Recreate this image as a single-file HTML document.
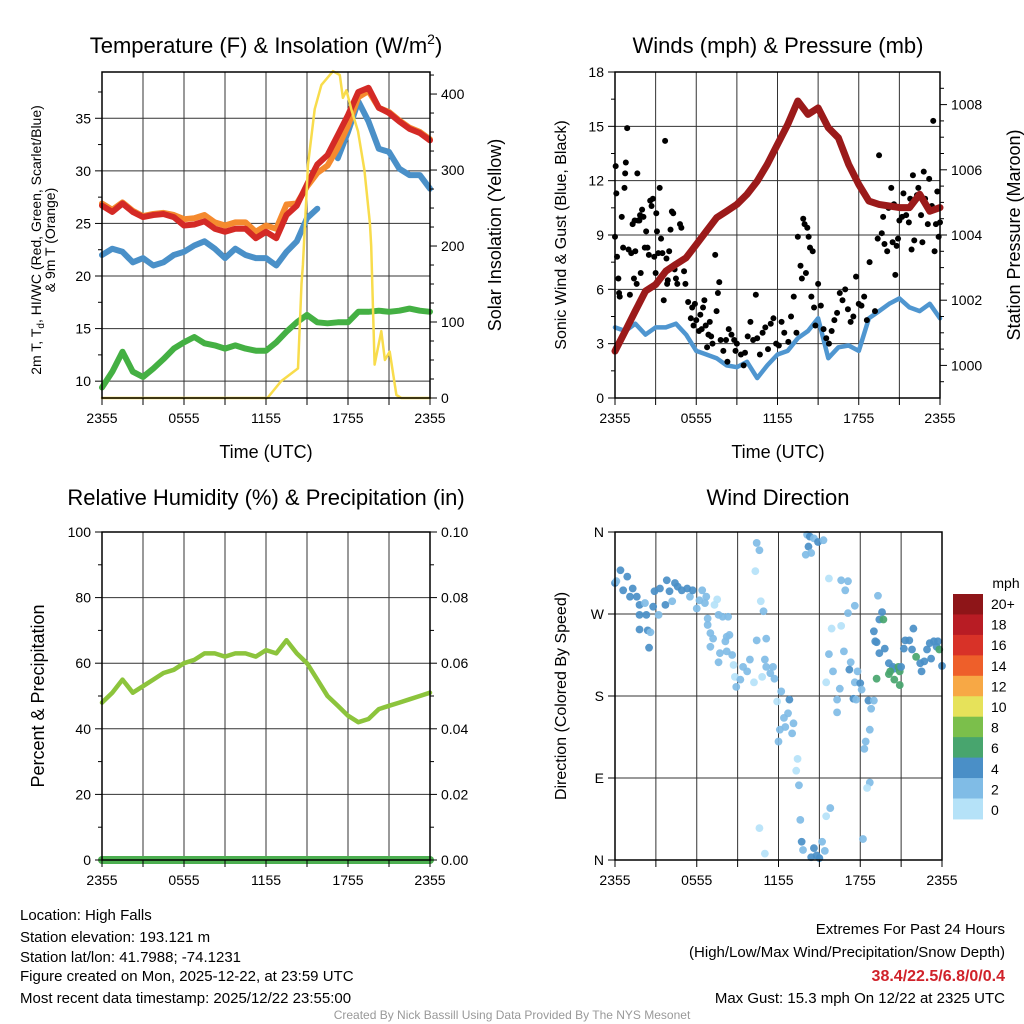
<!DOCTYPE html>
<html><head><meta charset="utf-8"><style>
html,body{margin:0;padding:0;background:#fff;}
svg{display:block;font-family:"Liberation Sans",Arial,sans-serif;}
</style></head><body>
<svg id="c" width="1024" height="1024" viewBox="0 0 1024 1024" xmlns="http://www.w3.org/2000/svg">
<rect width="1024" height="1024" fill="#fff"/>
<g id="grids"></g>
<g id="marks"></g>
<g id="frames"></g>
<g id="texts" fill="#000">
<text x="266" y="53" font-size="22" text-anchor="middle">Temperature (F) &amp; Insolation (W/m<tspan font-size="14" dy="-9">2</tspan><tspan dy="9">)</tspan></text>
<text x="778" y="53" font-size="22" text-anchor="middle">Winds (mph) &amp; Pressure (mb)</text>
<text x="266" y="505" font-size="22" text-anchor="middle">Relative Humidity (%) &amp; Precipitation (in)</text>
<text x="778" y="505" font-size="22" text-anchor="middle">Wind Direction</text>
<text x="266" y="458" font-size="18" text-anchor="middle">Time (UTC)</text>
<text x="778" y="458" font-size="18" text-anchor="middle">Time (UTC)</text>
<text font-size="14" text-anchor="middle" transform="translate(41,240) rotate(-90)">2m T, T<tspan font-size="10" dy="3">d</tspan><tspan dy="-3">, HI/WC (Red, Green, Scarlet/Blue)</tspan></text>
<text font-size="14" text-anchor="middle" transform="translate(55,240) rotate(-90)">&amp; 9m T (Orange)</text>
<text font-size="18" text-anchor="middle" transform="translate(501,235) rotate(-90)">Solar Insolation (Yellow)</text>
<text font-size="16" text-anchor="middle" transform="translate(566,235) rotate(-90)">Sonic Wind &amp; Gust (Blue, Black)</text>
<text font-size="18" text-anchor="middle" transform="translate(1020,235) rotate(-90)">Station Pressure (Maroon)</text>
<text font-size="18" text-anchor="middle" transform="translate(44,696) rotate(-90)">Percent &amp; Precipitation</text>
<text font-size="16" text-anchor="middle" transform="translate(566,696) rotate(-90)">Direction (Colored By Speed)</text>
<text x="1006" y="588" font-size="14" text-anchor="middle">mph</text>
<g font-size="15">
<text x="20" y="920">Location: High Falls</text>
<text x="20" y="942">Station elevation: 193.121 m</text>
<text x="20" y="962">Station lat/lon: 41.7988; -74.1231</text>
<text x="20" y="981">Figure created on Mon, 2025-12-22, at 23:59 UTC</text>
<text x="20" y="1003">Most recent data timestamp: 2025/12/22 23:55:00</text>
</g>
<g font-size="15" text-anchor="end">
<text x="1005" y="934">Extremes For Past 24 Hours</text>
<text x="1005" y="957">(High/Low/Max Wind/Precipitation/Snow Depth)</text>
<text x="1005" y="981" fill="#d0222a" font-weight="bold" font-size="16">38.4/22.5/6.8/0/0.4</text>
<text x="1005" y="1003">Max Gust: 15.3 mph On 12/22 at 2325 UTC</text>
</g>
<text x="512" y="1019" font-size="12" fill="#999" text-anchor="middle">Created By Nick Bassill Using Data Provided By The NYS Mesonet</text>
</g>
</svg>
<script>
// ---- data ----
const hourTicks=[0,6,12,18,24];
const hourTickLabels=["2355","0555","1155","1755","2355"];
const tempT=[0,0.75,1.5,2.25,3,3.75,4.5,5.25,6,6.75,7.5,8.25,9,9.75,10.5,11.25,12,12.75,13.5,14.25,15,15.75,16.5,17.25,18,18.75,19.5,20.25,21,21.75,22.5,23.25,24];
const tempRed=[26.7,26.1,26.9,26.1,25.6,25.8,25.9,25.6,24.8,24.9,25.2,24.5,24.2,24.5,24.5,23.6,24.2,23.6,25.8,26.7,28.7,30.6,31.5,33.4,35.3,37.5,37.9,36.0,35.5,34.7,34.0,33.6,32.9];
const tempOrange=[26.9,26.3,27.0,26.2,25.7,25.9,26.0,25.8,25.4,25.5,25.8,25.1,24.8,25.1,25.1,24.2,24.8,24.5,26.8,26.9,28.5,29.8,30.5,32.2,34.3,37.0,37.6,36.0,35.6,34.8,34.1,33.7,33.0];
const tempBlue=[22.0,22.6,22.3,21.3,21.7,21.0,21.3,22.0,22.3,22.9,23.3,22.6,21.7,22.6,22.0,21.7,21.7,21.0,22.3,23.3,25.5,26.4,null,31.2,33.7,36.6,34.7,32.1,31.8,30.2,29.6,29.6,28.3];
const tempGreen=[9.4,10.9,12.8,10.9,10.4,11.2,12.1,13.1,13.7,14.2,13.6,13.4,13.1,13.4,13.1,12.9,12.9,13.7,14.7,15.6,16.3,15.6,15.5,15.6,15.6,16.6,16.6,16.7,16.6,16.7,16.9,16.7,16.6];
const solarT=[0,12.1,13.1,14.34,14.6,14.7,15.07,15.56,16.05,16.9,17.4,17.63,17.88,18.24,18.73,19.2,19.6,19.7,19.95,20.44,20.7,21.05,21.54,21.9,24];
const solarV=[0,0,22,39,150,175,307,380,412,430,425,395,405,380,351,300,230,200,44,88,50,61,4,0,0];
const pressT=tempT;
const pressV=[1000.44,1001.05,1001.67,1002.28,1002.48,1002.89,1003.10,1003.30,1003.71,1004.12,1004.53,1004.73,1004.94,1005.25,1005.65,1006.17,1006.78,1007.39,1008.11,1007.70,1007.90,1007.29,1006.98,1006.17,1005.55,1005.04,1004.94,1004.89,1004.84,1004.84,1005.25,1004.73,1004.84];
const windV=[3.9,3.7,4.1,3.5,3.9,3.9,4.1,3.5,2.6,2.4,2.2,1.8,1.7,2.0,1.1,1.8,2.4,2.6,3.3,3.7,4.4,2.2,2.8,2.9,2.6,4.4,4.8,5.2,5.5,5.0,4.8,5.2,4.4];
const gustT=[0,0.05,0.1,0.15,0.25,0.3,0.35,0.5,0.6,0.7,0.8,0.75,0.9,1.0,1.1,1.2,1.3,1.4,1.45,1.5,1.6,1.65,1.7,1.8,1.85,1.9,2.0,2.1,2.2,2.3,2.4,2.5,2.6,2.7,2.8,2.9,3.0,3.05,3.1,3.2,3.3,3.4,3.5,3.6,3.7,3.8,3.85,3.9,4.0,4.1,4.2,4.3,4.4,4.5,4.6,4.8,4.9,5.1,5.2,5.4,5.6,5.7,5.8,5.9,6.0,6.2,6.3,6.4,6.5,6.6,6.7,6.8,6.9,7.0,7.1,7.2,7.4,7.5,7.6,7.7,7.8,8.0,8.2,8.3,8.4,8.6,8.8,8.9,9.0,9.3,9.5,9.6,9.8,10.0,10.2,10.4,10.5,10.7,10.9,11.1,11.3,11.5,11.7,11.9,12.1,12.3,12.5,12.8,13.0,13.2,13.4,13.5,13.7,13.8,13.9,14.0,14.1,14.2,14.3,14.4,14.5,14.6,14.7,14.8,15.0,15.2,15.4,15.6,15.8,16.0,16.2,16.4,16.6,16.8,17.0,17.2,17.4,17.6,17.8,18.0,18.2,18.4,18.6,18.8,19.2,19.4,19.5,19.7,19.8,19.9,20.1,20.2,20.4,20.5,20.6,20.7,20.8,20.9,21.0,21.2,21.3,21.5,21.7,21.8,21.9,22.0,22.1,22.3,22.4,22.6,22.7,22.8,22.9,23.1,23.2,23.4,23.5,23.6,23.7,23.8,23.9,24.0];
const gustV=[8.9,12.8,11.3,7.8,6.6,5.8,5.6,10.0,8.3,11.6,13.0,12.4,14.9,8.2,5.7,8.0,9.6,6.6,9.8,8.1,6.3,12.4,9.8,9.8,10.1,6.9,10.4,10.0,8.3,9.2,8.3,7.9,10.9,10.6,11.0,7.8,6.9,10.2,9.2,8.0,11.6,8.8,8.0,5.4,14.2,7.7,6.3,6.5,8.1,9.3,10.3,10.2,7.1,6.6,6.3,9.6,9.4,7.0,6.3,5.3,4.4,5.0,4.0,5.2,4.3,3.7,4.6,3.8,5.0,5.4,4.0,2.8,3.5,4.2,3.4,3.0,7.9,4.8,5.8,6.4,3.2,2.6,3.2,2.0,3.8,3.5,3.2,2.6,3.0,2.4,1.8,2.5,3.4,4.2,3.2,5.7,3.3,2.4,3.6,3.9,2.7,4.1,4.4,3.0,2.9,4.2,3.6,3.1,4.5,5.6,3.6,8.9,7.3,6.6,9.9,9.6,6.9,9.4,8.9,8.3,5.6,8.1,5.0,4.0,6.3,5.1,3.8,3.3,3.0,3.7,4.3,4.7,5.8,5.4,6.0,4.9,4.2,4.5,6.7,5.2,5.1,5.6,4.3,7.5,4.8,8.8,13.4,9.1,10.0,8.5,8.1,10.5,11.6,8.6,10.7,6.8,8.4,8.8,9.8,10.0,11.3,10.1,9.7,11.0,8.2,12.3,8.7,11.2,11.6,10.1,8.6,12.5,11.0,9.6,12.1,10.6,15.3,8.1,9.6,11.4,8.9,9.7];
const rhT=tempT;
const rhV=[48,51,55,51,53,55,57,58,60,61,63,63,62,63,63,62,64,63,67,63,60,55,50,47,44,42,43,46,47,48,49,50,51];
const precipT=[0,24];
const precipV=[0,0];
const dirT=[0.0,0.4,0.1,0.6,0.9,1.1,1.3,1.6,1.8,2.2,1.8,2.3,1.8,2.4,2.6,2.5,2.8,2.9,3.2,3.3,3.7,3.8,4.0,4.2,4.4,4.6,4.9,5.3,5.5,5.7,6.0,6.2,6.4,6.6,6.7,7.5,7.3,6.8,6.8,7.0,7.2,7.0,7.6,7.9,8.3,8.2,8.4,8.1,7.7,7.6,8.2,8.6,8.7,8.8,8.9,9.2,9.4,9.7,9.9,10.2,10.4,10.8,11.0,11.1,11.4,11.6,11.7,11.9,12.2,12.4,12.1,12.0,12.5,12.7,12.8,13.1,13.0,13.4,13.3,13.5,13.6,13.7,13.8,14.4,14.6,14.8,15.0,15.2,15.4,10.3,10.4,10.6,10.7,10.9,11.1,10.6,11.0,14.1,14.3,14.6,14.2,14.0,14.4,14.9,15.3,15.7,15.9,16.6,16.6,17.1,16.9,17.6,17.1,15.7,16.8,16.0,15.5,16.5,16.3,16.3,17.3,17.8,17.2,17.6,18.0,17.5,17.7,18.1,18.6,18.8,19.0,18.7,18.4,18.3,18.7,18.5,15.8,15.5,18.2,19.3,19.6,19.4,19.7,19.0,19.1,19.2,19.4,19.8,20.1,20.4,20.5,20.2,20.1,20.8,20.9,20.5,20.9,21.0,21.2,21.3,21.6,21.9,21.8,22.1,22.4,22.5,22.7,22.9,23.1,23.4,23.6,23.7,23.2,23.8,24.0,19.2];
const dirV=[304,318,306,296,311,289,298,289,280,282,269,269,253,252,250,233,278,295,269,298,280,307,295,284,304,300,296,298,289,296,276,285,296,282,289,286,280,265,258,249,243,234,269,267,267,245,247,240,227,217,229,225,214,201,190,198,212,207,220,195,241,201,220,212,205,212,199,174,185,156,143,130,146,161,176,150,139,111,98,82,44,20,11,3,13,5,2,20,10,317,348,340,284,273,243,35,7,357,355,353,344,335,337,349,351,309,254,257,307,306,296,279,271,226,229,207,195,188,176,162,217,207,209,195,194,177,176,187,175,166,175,143,130,122,85,79,57,48,23,290,272,264,264,251,240,239,227,232,216,212,210,207,204,212,207,198,192,212,232,241,241,254,231,223,216,207,218,231,238,240,234,240,221,231,213,199];
const dirSpeed=[3,3,1.5,3,3,3,3,3,3,1.5,3,3,3,3,1.5,3,3,3,1.5,3,3,3,3,1.5,3,3,3,3,1.5,3,1.5,1.5,1.5,1.5,1.5,0.5,0.5,1.5,1.5,1.5,1.5,1.5,1.5,1.5,1.5,1.5,1.5,1.5,1.5,1.5,1.5,1.5,0.5,0.5,1.5,1.5,1.5,1.5,1.5,0.5,1.5,0.5,1.5,1.5,1.5,1.5,1.5,0.5,1.5,1.5,1.5,1.5,1.5,1.5,3,1.5,1.5,0.5,0.5,1.5,1.5,3,1.5,3,3,3,3,1.5,1.5,0.5,1.5,1.5,0.5,1.5,1.5,0.5,0.5,1.5,3,1.5,3,1.5,1.5,3,1.5,0.5,0.5,0.5,1.5,1.5,1.5,1.5,1.5,1.5,1.5,1.5,0.5,1.5,1.5,1.5,1.5,1.5,3,1.5,3,3,1.5,1.5,3,1.5,1.5,1.5,1.5,1.5,1.5,0.5,1.5,0.5,1.5,1.5,3,3,5,3,3,3,3,3,3,3,3,5,5,5,5,5,5,3,3,3,3,3,3,5,3,3,3,3,3,3,3,3,3,5,3,5,3];
const colorbarLabels=["20+","18","16","14","12","10","8","6","4","2","0"];
const speedBreaks=[1,2,4,6,8,10,12,14,16,18];
const speedColors=["#b5e2f8","#80bce6","#4a8fc7","#48a56e","#7bbf4b","#e6e25a","#f7a845","#ee5f2a","#d83228","#b81c24","#8e1518"];

// ---- helpers ----
const NS="http://www.w3.org/2000/svg";
function mk(parent,tag,attrs){const e=document.createElementNS(NS,tag);for(const k in attrs)e.setAttribute(k,attrs[k]);document.getElementById(parent).appendChild(e);return e;}
function lin(d0,d1,r0,r1){return v=>r0+(v-d0)/(d1-d0)*(r1-r0);}
function pathD(xs,ys,fx,fy){let d="",pen=false;for(let i=0;i<xs.length;i++){if(ys[i]===null){pen=false;continue;}d+=(pen?"L":"M")+fx(xs[i]).toFixed(1)+","+fy(ys[i]).toFixed(1);pen=true;}return d;}
function txt(parent,x,y,s,anchor,size){const t=mk(parent,"text",{x:x,y:y,"font-size":size||14,"text-anchor":anchor||"middle"});t.textContent=s;return t;}

const P1={x0:102,x1:430,y0:72,y1:398},P2={x0:615,x1:940,y0:72,y1:398},P3={x0:102,x1:430,y0:532,y1:860},P4={x0:615,x1:942,y0:532,y1:860};

function timeAxis(P,name){
  const fx=lin(0,24,P.x0,P.x1);
  for(let h=3;h<24;h+=3){const g=mk("grids","line",{x1:fx(h),x2:fx(h),y1:P.y0,y2:P.y1,stroke:"#333","stroke-width":1});
    
    }
  for(let h=0;h<=24;h+=3){mk("frames","line",{x1:fx(h),x2:fx(h),y1:P.y1,y2:P.y1+7,stroke:"#000","stroke-width":1});}
  hourTicks.forEach((h,i)=>{const t=txt("texts",fx(h),P.y1+25,hourTickLabels[i],"middle",14);
    
    });
  return fx;
}
function frame(P,name){const r=mk("frames","rect",{x:P.x0,y:P.y0,width:P.x1-P.x0,height:P.y1-P.y0,fill:"none",stroke:"#000","stroke-width":1.5});
  
  }
function hGrid(P,fy,vals,name){vals.forEach(v=>{const g=mk("grids","line",{x1:P.x0,x2:P.x1,y1:fy(v),y2:fy(v),stroke:"#333","stroke-width":1});
  
  });}
function minor(P,fy,vals,side){vals.forEach(v=>{const y=fy(v);if(y<P.y0||y>P.y1)return;
  if(side==="l")mk("frames","line",{x1:P.x0-4,x2:P.x0,y1:y,y2:y,stroke:"#000"});
  else mk("frames","line",{x1:P.x1,x2:P.x1+4,y1:y,y2:y,stroke:"#000"});});}
function leftTicks(P,fy,vals,labels,name){vals.forEach((v,i)=>{mk("frames","line",{x1:P.x0-7,x2:P.x0,y1:fy(v),y2:fy(v),stroke:"#000"});
  const t=txt("texts",P.x0-11,fy(v)+5,labels[i],"end",14);
  
  });}
function rightTicks(P,fy,vals,labels,name){vals.forEach((v,i)=>{mk("frames","line",{x1:P.x1,x2:P.x1+7,y1:fy(v),y2:fy(v),stroke:"#000"});
  const t=txt("texts",P.x1+11,fy(v)+5,labels[i],"start",14);
  
  });}
function series(xs,ys,fx,fy,color,w,name){const p=mk("marks","path",{d:pathD(xs,ys,fx,fy),fill:"none",stroke:color,"stroke-width":w,"stroke-linejoin":"round","stroke-linecap":"round"});
  
  return p;}

// ---- panel 1 ----
{
 const fx=timeAxis(P1,"temp");
 const fy=lin(8.4,39.4,P1.y1,P1.y0), fs=lin(0,429,P1.y1,P1.y0);
 const tv=[10,15,20,25,30,35];
 hGrid(P1,fy,tv,"temp");
 leftTicks(P1,fy,tv,tv.map(String),"temp");
 minor(P1,fy,[12.5,17.5,22.5,27.5,32.5,37.5],"l");
 const sv=[0,100,200,300,400];
 rightTicks(P1,fs,sv,sv.map(String),"solar");
 minor(P1,fs,[25,50,75,125,150,175,225,250,275,325,350,375,425],"r");
 series(tempT,tempBlue,fx,fy,"#4a90c8",6,"wind-chill-line");
 series(tempT,tempGreen,fx,fy,"#44b043",6,"dewpoint-line");
 series(tempT,tempOrange,fx,fy,"#f58a2e",6,"temp-9m-line");
 series(tempT,tempRed,fx,fy,"#d42a26",6,"temp-2m-line");
 series(solarT,solarV,fx,fs,"#f8dc4c",2.5,"solar-insolation-line");
 frame(P1,"temp");
}
// ---- panel 2 ----
{
 const fx=timeAxis(P2,"wind");
 const fy=lin(0,18,P2.y1,P2.y0), fp=lin(999,1009,P2.y1,P2.y0);
 const wv=[3,6,9,12,15];
 hGrid(P2,fy,wv,"wind");
 leftTicks(P2,fy,[0,3,6,9,12,15,18],["0","3","6","9","12","15","18"],"wind");
 minor(P2,fy,[1.5,4.5,7.5,10.5,13.5,16.5],"l");
 const pv=[1000,1002,1004,1006,1008];
 rightTicks(P2,fp,pv,pv.map(String),"pressure");
 minor(P2,fp,[999.5,1000.5,1001,1001.5,1002.5,1003,1003.5,1004.5,1005,1005.5,1006.5,1007,1007.5,1008.5],"r");
 series(pressT,windV,fx,fy,"#4f96d0",4.5,"sonic-wind-line");
 gustT.forEach((t,i)=>{const c=mk("marks","circle",{cx:fx(t),cy:fy(gustV[i]),r:3,fill:"#000"});
   
   });
 series(pressT,pressV,fx,fp,"#9b1a1a",7,"station-pressure-line");
 frame(P2,"wind");
}
// ---- panel 3 ----
{
 const fx=timeAxis(P3,"rh");
 const fy=lin(0,100,P3.y1,P3.y0), fq=lin(0,0.1,P3.y1,P3.y0);
 hGrid(P3,fy,[20,40,60,80],"rh");
 const rv=[0,20,40,60,80,100];
 leftTicks(P3,fy,rv,rv.map(String),"rh");
 minor(P3,fy,[10,30,50,70,90],"l");
 const qv=[0,0.02,0.04,0.06,0.08,0.1];
 rightTicks(P3,fq,qv,qv.map(v=>v.toFixed(2)),"precip");
 minor(P3,fq,[0.01,0.03,0.05,0.07,0.09],"r");
 series(rhT,rhV,fx,fy,"#8cc43c",4.5,"relative-humidity-line");
 series(precipT,precipV,fx,fq,"#4caf50",8,"precipitation-line");
 frame(P3,"rh");
}
// ---- panel 4 ----
{
 const fx=timeAxis(P4,"dir");
 const fy=lin(0,360,P4.y1,P4.y0);
 hGrid(P4,fy,[90,180,270],"dir");
 leftTicks(P4,fy,[0,90,180,270,360],["N","E","S","W","N"],"dir");
 dirT.forEach((t,i)=>{let b=0;speedBreaks.forEach(s=>{if(dirSpeed[i]>=s)b++;});
   const c=mk("marks","circle",{cx:fx(t),cy:fy(dirV[i]),r:3.9,fill:speedColors[b],"fill-opacity":0.92});
   
   });
 frame(P4,"dir");
 // colorbar
 const bx=953,by=594,bh=20.45;
 for(let i=0;i<11;i++){const r=mk("marks","rect",{x:bx,y:by+i*bh,width:30,height:bh+0.5,fill:speedColors[10-i]});
   
   }
 colorbarLabels.forEach((s,i)=>{const t=txt("texts",991,by+15+i*20.6,s,"start",14);
   
   });
}
</script>
</body></html>
